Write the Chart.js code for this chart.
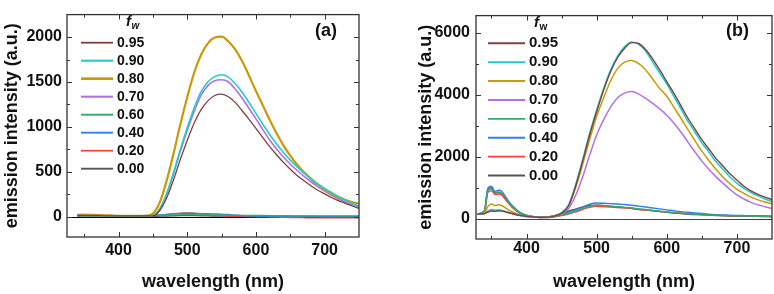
<!DOCTYPE html>
<html>
<head>
<meta charset="utf-8">
<script src="https://cdn.jsdelivr.net/npm/chart.js@4.4.1/dist/chart.umd.min.js"></script>
<style>
  body { margin: 0; background: #fff; width: 774px; height: 294px; overflow: hidden; position: relative; }
  canvas { position: absolute; top: 0; }
</style>
</head>
<body>
<canvas id="chartA" width="390" height="294" style="left:0"></canvas>
<canvas id="chartB" width="384" height="294" style="left:390px"></canvas>
<script>
// legend entries (water fraction) and their colours, same order in both panels
const fwLabels = ['0.95', '0.90', '0.80', '0.70', '0.60', '0.40', '0.20', '0.00'];
const lineColors = ['#80403f', '#22cccc', '#c99a06', '#b370e6', '#33aa66', '#2f7ff0', '#ff3b3b', '#555555'];

const xTicks = [400, 500, 600, 700];
const yTicksA = [0, 500, 1000, 1500, 2000];
const yTicksB = [0, 2000, 4000, 6000];

// panel (a): wavelength (nm) and emission intensity
const wlA = [340, 350, 360, 370, 380, 390, 400, 410, 420, 430, 440, 450, 460, 470, 480, 490, 500, 510, 520, 530,
  540, 550, 560, 570, 580, 590, 600, 610, 620, 630, 640, 650, 660, 670, 680, 690, 700, 710, 720, 730, 740, 750];
const a095 = [14, 15, 13, 12, 11, 10, 10, 9, 9, 9, 9, 10, 70, 210, 410, 640, 850, 1040, 1190, 1290,
  1350, 1365, 1335, 1270, 1180, 1085, 985, 880, 780, 690, 605, 530, 460, 400, 345, 295, 255, 215, 180, 150, 120, 95];
const a090 = [12, 12, 11, 10, 10, 10, 9, 9, 8, 8, 8, 15, 90, 260, 490, 750, 990, 1210, 1390, 1500,
  1560, 1580, 1555, 1480, 1385, 1270, 1150, 1030, 915, 810, 715, 630, 555, 485, 420, 365, 315, 270, 225, 185, 150, 115];
const a080 = [15, 18, 15, 14, 12, 12, 10, 10, 10, 10, 12, 35, 160, 400, 700, 1030, 1330, 1600, 1800, 1930,
  1995, 2005, 1950, 1860, 1730, 1570, 1400, 1240, 1080, 930, 795, 680, 580, 495, 425, 360, 305, 260, 220, 190, 165, 145];
const a070 = [12, 12, 11, 10, 10, 10, 9, 9, 8, 8, 8, 15, 85, 250, 475, 730, 960, 1170, 1350, 1460,
  1515, 1525, 1500, 1420, 1320, 1205, 1090, 970, 855, 755, 665, 585, 515, 450, 390, 335, 285, 240, 200, 165, 135, 110];
const a060 = [12, 13, 12, 11, 10, 10, 10, 10, 10, 10, 10, 12, 15, 18, 20, 22, 22, 22, 20, 20,
  20, 20, 18, 17, 16, 15, 15, 14, 13, 12, 12, 11, 10, 10, 10, 10, 10, 10, 10, 10, 10, 10];
const a040 = [15, 16, 15, 14, 13, 12, 12, 12, 12, 12, 12, 15, 20, 26, 32, 38, 40, 38, 35, 33,
  32, 30, 25, 18, 12, 10, 8, 6, 5, 5, 5, 4, 4, 4, 4, 4, 3, 3, 3, 3, 3, 3];
const a020 = [25, 28, 26, 22, 18, 15, 13, 12, 12, 12, 12, 14, 20, 28, 35, 42, 45, 40, 32, 25,
  18, 12, 8, 5, 3, 2, 0, -2, -4, -5, -7, -9, -10, -11, -12, -12, -12, -12, -12, -12, -12, -12];
const a000 = [5, 5, 5, 5, 5, 4, 4, 4, 4, 4, 4, 5, 7, 9, 11, 13, 14, 13, 12, 10,
  9, 8, 7, 6, 6, 5, 5, 5, 4, 4, 4, 3, 3, 3, 3, 2, 2, 2, 2, 2, 2, 2];

// panel (b)
const wlB = [330, 340, 345, 350, 355, 360, 365, 370, 375, 380, 390, 400, 410, 420, 430, 440, 450, 460, 470, 480,
  490, 500, 510, 520, 530, 540, 550, 560, 570, 580, 590, 600, 610, 620, 630, 640, 650, 660, 670, 680,
  690, 700, 710, 720, 730, 740, 750];
const b095 = [150, 170, 220, 250, 240, 255, 250, 225, 195, 165, 115, 80, 60, 50, 55, 90, 180, 420, 1050, 1850,
  2700, 3450, 4150, 4750, 5200, 5500, 5680, 5650, 5450, 5150, 4800, 4420, 4050, 3650, 3250, 2900, 2550, 2250, 1950, 1700,
  1450, 1250, 1050, 900, 790, 700, 620];
const b090 = [150, 165, 230, 260, 250, 270, 260, 230, 200, 170, 120, 80, 60, 50, 60, 100, 200, 450, 1100, 1900,
  2750, 3500, 4200, 4800, 5250, 5550, 5700, 5620, 5400, 5050, 4700, 4350, 3950, 3550, 3150, 2800, 2450, 2150, 1850, 1600,
  1350, 1150, 980, 850, 740, 640, 560];
const b080 = [150, 200, 400, 480, 430, 450, 420, 350, 280, 220, 130, 80, 60, 50, 60, 100, 190, 420, 1000, 1750,
  2550, 3300, 3900, 4450, 4850, 5050, 5100, 5000, 4800, 4500, 4200, 3950, 3600, 3250, 2880, 2520, 2180, 1880, 1600, 1350,
  1130, 950, 820, 700, 610, 540, 480];
const b070 = [150, 170, 250, 300, 280, 290, 270, 240, 200, 170, 110, 70, 55, 45, 55, 90, 170, 330, 750, 1350,
  2050, 2700, 3200, 3600, 3900, 4050, 4100, 4020, 3880, 3720, 3540, 3340, 3090, 2800, 2480, 2160, 1860, 1600, 1360, 1150,
  950, 770, 640, 530, 450, 390, 330];
const b060 = [150, 240, 900, 950, 820, 870, 820, 680, 520, 390, 200, 110, 65, 45, 45, 70, 120, 180, 250, 330,
  400, 440, 430, 410, 390, 370, 350, 320, 300, 270, 250, 220, 200, 180, 165, 150, 140, 130, 120, 110,
  100, 95, 90, 90, 85, 85, 80];
const b040 = [160, 260, 1000, 1050, 880, 920, 880, 720, 550, 420, 220, 120, 70, 50, 55, 90, 150, 220, 290, 380,
  470, 510, 500, 490, 480, 460, 440, 410, 380, 350, 320, 290, 260, 230, 210, 190, 170, 150, 135, 125,
  115, 110, 105, 100, 95, 90, 85];
const b020 = [150, 230, 850, 900, 780, 800, 760, 620, 480, 360, 190, 100, 60, 40, 40, 60, 100, 150, 220, 300,
  370, 400, 390, 380, 360, 350, 330, 300, 280, 260, 240, 220, 200, 180, 160, 150, 140, 130, 120, 110,
  100, 100, 95, 90, 85, 80, 75];
const b000 = [150, 250, 950, 1000, 830, 850, 800, 650, 500, 380, 200, 110, 70, 50, 60, 100, 170, 250, 310, 380,
  430, 440, 420, 400, 380, 360, 340, 310, 290, 260, 240, 210, 190, 170, 150, 140, 130, 120, 110, 100,
  95, 90, 85, 80, 80, 75, 70];

const FONT = "'Liberation Sans', Arial, sans-serif";
const INK = '#111';

// box round the plot, inward ticks on all four sides, zero line
const frame = {
  id: 'frame',
  beforeDatasetsDraw(chart, args, o) {
    const { ctx, chartArea: a, scales: { y } } = chart;
    const y0 = Math.round(y.getPixelForValue(0)) + 0.5;
    ctx.save();
    ctx.strokeStyle = o.zeroColor;
    ctx.lineWidth = 1.2;
    ctx.beginPath();
    ctx.moveTo(a.left, y0);
    ctx.lineTo(a.right, y0);
    ctx.stroke();
    ctx.restore();
  },
  afterDatasetsDraw(chart, args, o) {
    const { ctx, chartArea: a, scales: { x, y } } = chart;
    ctx.save();
    ctx.strokeStyle = '#333';
    ctx.lineWidth = 1.3;
    ctx.strokeRect(a.left, a.top, a.right - a.left, a.bottom - a.top);
    ctx.lineWidth = 1;
    ctx.beginPath();
    for (let v = 350; v < x.max; v += 50) {
      const px = Math.round(x.getPixelForValue(v)) + 0.5;
      const len = v % 100 === 0 ? 5 : 3;
      ctx.moveTo(px, a.bottom); ctx.lineTo(px, a.bottom - len);
      ctx.moveTo(px, a.top); ctx.lineTo(px, a.top + len);
    }
    for (let v = 0; v < y.max; v += o.yMinor) {
      const py = Math.round(y.getPixelForValue(v)) + 0.5;
      const len = v % o.yMajor === 0 ? 5 : 3;
      ctx.moveTo(a.left, py); ctx.lineTo(a.left + len, py);
      ctx.moveTo(a.right, py); ctx.lineTo(a.right - len, py);
    }
    ctx.stroke();
    ctx.restore();
  }
};

// f_w legend and panel tag, drawn inside the plot
const fwLegend = {
  id: 'fwLegend',
  afterDraw(chart, args, o) {
    const ctx = chart.ctx;
    ctx.save();
    ctx.textBaseline = 'middle';
    chart.data.datasets.forEach((ds, i) => {
      const yy = o.top + i * o.step;
      ctx.strokeStyle = ds.borderColor;
      ctx.lineWidth = ds.borderWidth + 0.5;
      ctx.beginPath();
      ctx.moveTo(o.lineFrom, yy);
      ctx.lineTo(o.lineTo, yy);
      ctx.stroke();
      ctx.fillStyle = INK;
      ctx.font = 'bold ' + o.size + 'px ' + FONT;
      ctx.textAlign = 'left';
      ctx.fillText(ds.label, o.textX, yy);
    });
    ctx.font = 'italic bold 15px ' + FONT;
    ctx.fillText('f', o.headX, o.headY);
    const fw = ctx.measureText('f').width;
    ctx.font = (o.subItalic ? 'italic ' : '') + 'bold 10px ' + FONT;
    ctx.fillText('w', o.headX + fw + 0.5, o.headY + 4);
    ctx.font = 'bold 18px ' + FONT;
    ctx.textAlign = 'center';
    ctx.fillText(o.tag, o.tagX, o.tagY);
    ctx.restore();
  }
};

function buildChart(id, wl, series, cfg) {
  return new Chart(document.getElementById(id), {
    type: 'line',
    data: {
      datasets: series.map((vals, i) => ({
        label: fwLabels[i],
        data: vals.map((v, k) => ({ x: wl[k], y: v })),
        borderColor: lineColors[i],
        borderWidth: cfg.widths[i],
        pointRadius: 0,
        cubicInterpolationMode: 'monotone',
        fill: false
      }))
    },
    options: {
      responsive: false,
      animation: false,
      layout: { padding: cfg.padding },
      plugins: {
        legend: { display: false },
        tooltip: { enabled: false },
        frame: { zeroColor: cfg.zeroColor, yMinor: cfg.yMinor, yMajor: cfg.yMajor },
        fwLegend: cfg.legend
      },
      scales: {
        x: {
          type: 'linear',
          min: cfg.xMin,
          max: 750,
          grid: { display: false, drawTicks: false },
          border: { display: false },
          afterBuildTicks: s => { s.ticks = xTicks.map(v => ({ value: v })); },
          afterFit: s => { s.height = cfg.xHeight; },
          ticks: {
            autoSkip: false, maxRotation: 0, padding: cfg.xPad, color: INK,
            font: { family: FONT, size: 16, weight: 'bold' },
            callback: v => String(v)
          },
          title: {
            display: true, text: 'wavelength (nm)', color: INK,
            font: { family: FONT, size: 18, weight: 'bold' },
            padding: { top: 0, bottom: 1 }
          }
        },
        y: {
          min: cfg.yMin,
          max: cfg.yMax,
          grid: { display: false, drawTicks: false },
          border: { display: false },
          afterBuildTicks: s => { s.ticks = cfg.yTicks.map(v => ({ value: v })); },
          afterFit: s => { s.width = cfg.yWidth; },
          ticks: {
            autoSkip: false, padding: cfg.yPad, color: INK,
            font: { family: FONT, size: 16, weight: 'bold' },
            callback: v => String(v)
          },
          title: {
            display: true, text: 'emission intensity (a.u.)', color: INK,
            font: { family: FONT, size: 18, weight: 'bold' },
            padding: { top: cfg.yTitlePad, bottom: 0 }
          }
        }
      }
    },
    plugins: [frame, fwLegend]
  });
}

buildChart('chartA', wlA, [a095, a090, a080, a070, a060, a040, a020, a000], {
  widths: [1.3, 1.6, 2.2, 1.6, 1.4, 1.4, 1.2, 1.4],
  padding: { left: 0, right: 31, top: 2, bottom: 0 },
  xMin: 325, yMin: -225, yMax: 2250, yTicks: yTicksA, yMinor: 250, yMajor: 500,
  xHeight: 57, yWidth: 67, xPad: 4, yPad: 5, yTitlePad: 1,
  zeroColor: '#000',
  legend: { top: 42.7, step: 18, lineFrom: 81, lineTo: 113, textX: 117, size: 14,
    headX: 126, headY: 22, subItalic: true, tag: '(a)', tagX: 326, tagY: 31 }
});

buildChart('chartB', wlB, [b095, b090, b080, b070, b060, b040, b020, b000], {
  widths: [1.4, 1.6, 1.5, 1.5, 1.4, 1.4, 1.3, 1.5],
  padding: { left: 0, right: 2, top: 1, bottom: 0 },
  xMin: 328, yMin: -650, yMax: 6550, yTicks: yTicksB, yMinor: 1000, yMajor: 2000,
  xHeight: 55, yWidth: 86, xPad: 0, yPad: 6, yTitlePad: 25,
  zeroColor: '#444',
  legend: { top: 43.3, step: 18.9, lineFrom: 98, lineTo: 135, textX: 139, size: 15,
    headX: 144, headY: 23, subItalic: false, tag: '(b)', tagX: 347.5, tagY: 31 }
});
</script>
</body>
</html>
